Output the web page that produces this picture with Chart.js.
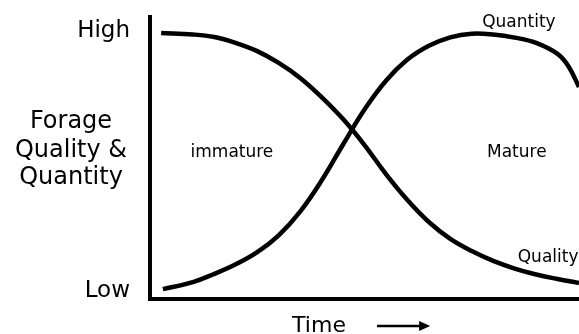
<!DOCTYPE html>
<html lang="en">
<head>
    <meta charset="UTF-8">
    <title>Forage Quality and Quantity</title>
    <style>
        body { margin: 0; background: #fff; }
        .chart-container { width: 579px; height: 334px; position: relative; }
    </style>
</head>
<body>
    <div class="chart-container">
        <canvas id="forageChart"></canvas>
    </div>

    <script src="https://cdn.jsdelivr.net/npm/chart.js"></script>
    <script>
        // values, time and level both on a 0-100 scale
        const qualityTime = [2.6, 10, 15, 20, 25, 30, 35, 40, 45, 50, 55, 60, 65, 70, 75, 80, 85, 90, 95, 100];
        const qualityValues = [94.3, 93.8, 92.9, 90.8, 87.9, 83.7, 78.4, 71.6, 63.8, 54.6, 44.3, 35.1, 27.3, 21.3, 17.0, 13.5, 10.8, 8.7, 7.1, 5.7];
        const quantityTime = [3, 10, 15, 20, 25, 30, 35, 40, 45, 50, 55, 60, 65, 70, 75, 80, 85, 90, 95, 97.5, 100];
        const quantityValues = [3.5, 6.0, 8.9, 12.3, 16.6, 22.6, 31.0, 42.0, 54.8, 67.2, 77.4, 84.9, 89.8, 92.8, 94.1, 93.8, 92.7, 90.8, 86.9, 82.6, 75.2];

        const tickValues = [2.8, 95.0];
        const tickLabels = ['Low', 'High'];
        const axisTitleLines = ['Forage', 'Quality &', 'Quantity'];
        const xTitle = 'Time';

        // in-plot labels: [text, time, level]
        const plotLabels = [
            ['immature', 19.1, 50.4],
            ['Mature', 85.5, 50.4],
            ['Quantity', 86.0, 96.5],
            ['Quality', 92.8, 13.1]
        ];

        const toPoints = (xs, ys) => xs.map((x, i) => ({ x: x, y: ys[i] }));

        const textPlugin = {
            id: 'forageText',
            afterDraw(chart) {
                const { ctx, chartArea, scales: { x, y } } = chart;
                ctx.save();
                ctx.fillStyle = '#000';
                ctx.textAlign = 'center';
                ctx.textBaseline = 'alphabetic';

                ctx.font = '17px "DejaVu Sans"';
                plotLabels.forEach(([text, tx, ty]) => {
                    ctx.fillText(text, x.getPixelForValue(tx), y.getPixelForValue(ty));
                });

                // y axis title, three centred lines
                ctx.font = '24px "DejaVu Sans"';
                const titleBase = [60.5, 50.5, 40.8];
                axisTitleLines.forEach((line, i) => {
                    ctx.fillText(line, chartArea.left - 79, y.getPixelForValue(titleBase[i]));
                });

                // x title with arrow
                ctx.font = '22px "DejaVu Sans"';
                ctx.fillText(xTitle, x.getPixelForValue(39.4), chartArea.bottom + 33);

                const ay = chartArea.bottom + 27;
                const ax0 = x.getPixelForValue(52.9);
                const ax1 = x.getPixelForValue(65.3);
                ctx.strokeStyle = '#000';
                ctx.lineWidth = 2.5;
                ctx.beginPath();
                ctx.moveTo(ax0, ay);
                ctx.lineTo(ax1 - 8, ay);
                ctx.stroke();
                ctx.beginPath();
                ctx.moveTo(ax1, ay);
                ctx.lineTo(ax1 - 11, ay - 5);
                ctx.lineTo(ax1 - 11, ay + 5);
                ctx.closePath();
                ctx.fill();
                ctx.restore();
            }
        };

        const lineStyle = {
            borderColor: '#000',
            borderWidth: 4.5,
            pointRadius: 0,
            fill: false,
            tension: 0.4
        };

        const ctx = document.getElementById('forageChart').getContext('2d');
        const forageChart = new Chart(ctx, {
            type: 'line',
            data: {
                datasets: [
                    Object.assign({ label: 'Quality', data: toPoints(qualityTime, qualityValues) }, lineStyle),
                    Object.assign({ label: 'Quantity', data: toPoints(quantityTime, quantityValues) }, lineStyle)
                ]
            },
            options: {
                responsive: true,
                maintainAspectRatio: false,
                animation: false,
                layout: { padding: { top: 17, right: 0, bottom: 0, left: 0 } },
                plugins: {
                    legend: { display: false },
                    tooltip: { enabled: false }
                },
                scales: {
                    x: {
                        type: 'linear',
                        min: 0,
                        max: 100,
                        grid: { display: false, drawTicks: false },
                        border: { display: true, color: '#000', width: 4 },
                        ticks: { display: false },
                        afterFit(scale) {
                            scale.height = 35;
                            scale.paddingLeft = 0;
                            scale.paddingRight = 0;
                        }
                    },
                    y: {
                        min: 0,
                        max: 100,
                        grid: { display: false, drawTicks: false },
                        border: { display: true, color: '#000', width: 4 },
                        afterBuildTicks(scale) {
                            scale.ticks = tickValues.map(v => ({ value: v }));
                        },
                        ticks: {
                            color: '#000',
                            padding: 20,
                            font: { family: 'DejaVu Sans', size: 23 },
                            callback: (value, index) => tickLabels[index]
                        },
                        afterFit(scale) {
                            scale.width = 150;
                            scale.paddingTop = 0;
                            scale.paddingBottom = 0;
                        }
                    }
                }
            },
            plugins: [textPlugin]
        });
    </script>
</body>
</html>
